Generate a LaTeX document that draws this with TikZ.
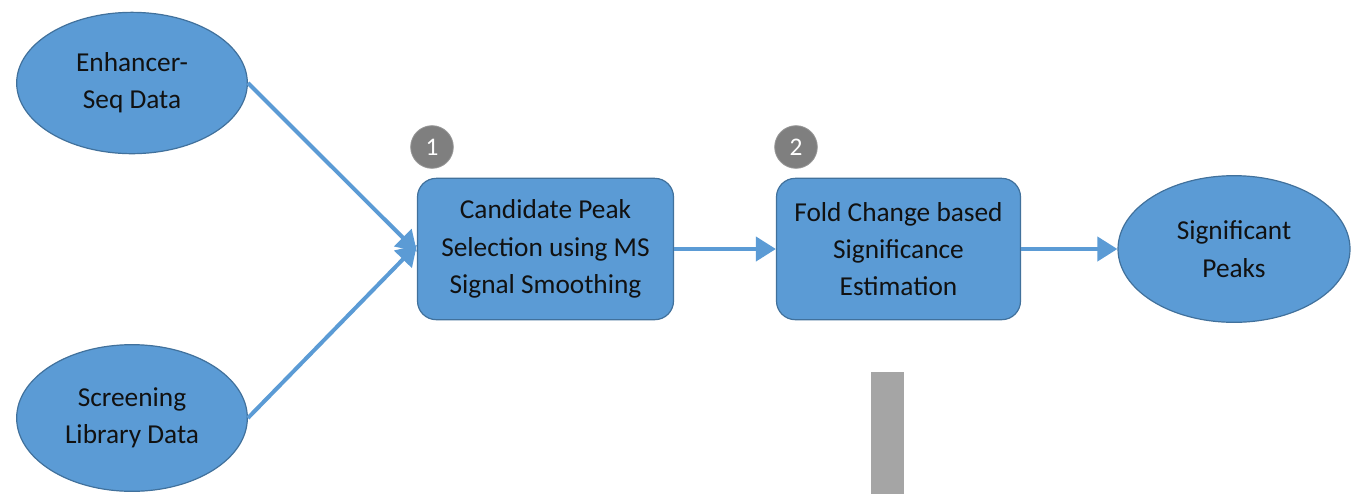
\documentclass[tikz,border=0pt]{standalone}
\usepackage{fontspec}
\setmainfont{Carlito}
\usepackage{tikz}
\usetikzlibrary{arrows.meta,shapes.geometric}

\definecolor{boxBlue}{HTML}{5B9BD5}
\definecolor{edgeBlue}{HTML}{41719C}
\definecolor{badgeGray}{HTML}{7F7F7F}
\definecolor{barGray}{HTML}{A5A5A5}
\definecolor{txtDark}{HTML}{111111}

\tikzset{
  datanode/.style={ellipse, draw=edgeBlue, fill=boxBlue, line width=0.9pt,
    minimum width=173pt, minimum height=106pt, align=center, text=txtDark,
    font=\fontsize{20.5}{28}\selectfont, inner sep=0pt},
  procbox/.style={rectangle, rounded corners=14pt, draw=edgeBlue, fill=boxBlue,
    line width=0.9pt, align=center, text=txtDark,
    font=\fontsize{20.5}{28}\selectfont, inner sep=0pt},
  badge/.style={circle, fill=badgeGray, draw=badgeGray!80!white, line width=0.6pt,
    minimum size=32pt, inner sep=0pt, text=white, font=\fontsize{19}{19}\selectfont},
  flow/.style={draw=boxBlue, line width=3pt,
    -{Triangle[length=15pt,width=18pt]}}
}

\begin{document}
\begin{tikzpicture}[x=0.75pt,y=0.75pt,yscale=-1,xscale=1]
\useasboundingbox (0,0) rectangle (1357,494);

%Ellipses: input data
\node[datanode] (enh) at (132,83) {Enhancer-\\Seq Data};
\node[datanode, minimum height=110pt] (scr) at (132,418) {Screening\\Library Data};

%Process boxes
\node[procbox, minimum width=192pt, minimum height=106pt] (cand) at (545.5,249) {Candidate Peak\\Selection using MS\\Signal Smoothing};
\node[procbox, minimum width=183pt, minimum height=106pt] (fold) at (898.5,249) {Fold Change based\\Significance\\Estimation};

%Ellipse: output
\node[datanode, minimum width=174pt, minimum height=110pt] (sig) at (1234,249) {Significant\\Peaks};

%Step badges
\node[badge] (badgeA) at (432,147) {1};
\node[badge] (badgeB) at (796,147) {2};

%Connectors
\draw[flow] (enh.east) -- ([yshift=2pt]cand.west);
\draw[flow] (scr.east) -- ([yshift=-3pt]cand.west);
\draw[flow] (cand.east) -- (fold.west);
\draw[flow] (fold.east) -- (sig.west);

%Gray bar
\fill[barGray] (871,372) rectangle (904,494);

\end{tikzpicture}
\end{document}
